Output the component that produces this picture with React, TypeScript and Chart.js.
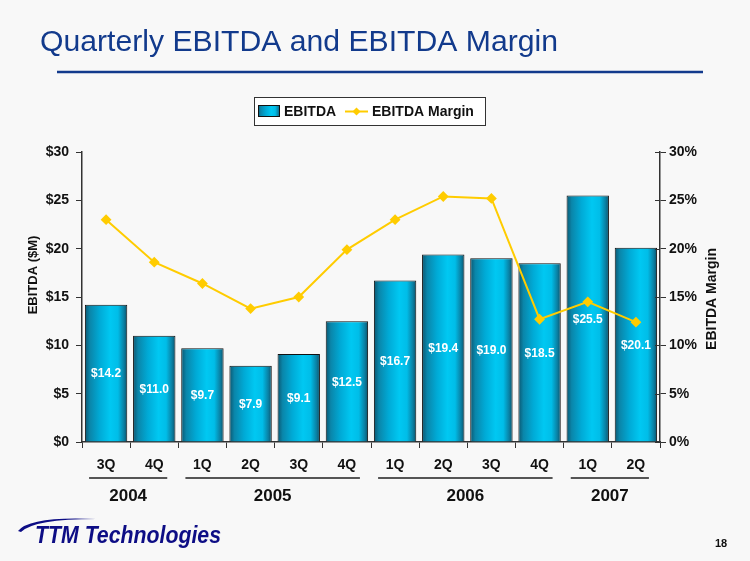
import { useEffect, useRef } from "react";
import { Chart, registerables } from "chart.js";

Chart.register(...registerables);

const categories = ["3Q", "4Q", "1Q", "2Q", "3Q", "4Q", "1Q", "2Q", "3Q", "4Q", "1Q", "2Q"];
const ebitda = [14.2, 11.0, 9.7, 7.9, 9.1, 12.5, 16.7, 19.4, 19.0, 18.5, 25.5, 20.1];
const margin = [23.0, 18.6, 16.4, 13.8, 15.0, 19.9, 23.0, 25.4, 25.2, 12.7, 14.5, 12.4];
const years = ["2004", "2005", "2006", "2007"];
const yearFirst = [0, 2, 6, 10];
const yearLast = [1, 5, 9, 11];

const FONT = "'Liberation Sans', Arial, Helvetica, sans-serif";
const BAR_PCT = 0.88;
const NAVY = "#123A8C";

function barFill(ctx: CanvasRenderingContext2D, x0: number, x1: number) {
  const g = ctx.createLinearGradient(x0, 0, x1, 0);
  g.addColorStop(0, "#0b5670");
  g.addColorStop(0.12, "#0a86aa");
  g.addColorStop(0.35, "#00aad6");
  g.addColorStop(0.6, "#00c8f2");
  g.addColorStop(0.78, "#00bde8");
  g.addColorStop(0.92, "#0a7fa2");
  g.addColorStop(1, "#0b5068");
  return g;
}

const bgPlugin = {
  id: "bg",
  beforeDraw(chart: any) {
    const ctx = chart.ctx;
    ctx.save();
    ctx.fillStyle = "#F8F8F8";
    ctx.fillRect(0, 0, chart.width, chart.height);
    ctx.restore();
  },
};

const labelsPlugin = {
  id: "barLabels",
  afterDatasetsDraw(chart: any) {
    const ctx = chart.ctx;
    const meta = chart.getDatasetMeta(0);
    ctx.save();
    ctx.font = `bold 12px ${FONT}`;
    ctx.fillStyle = "#FFFFFF";
    ctx.textAlign = "center";
    ctx.textBaseline = "middle";
    meta.data.forEach((el: any, i: number) => {
      const y = (el.y + el.base) / 2;
      ctx.fillText("$" + ebitda[i].toFixed(1), el.x, y + 1);
    });
    ctx.restore();
  },
};

const decorPlugin = {
  id: "decor",
  afterDraw(chart: any) {
    const ctx: CanvasRenderingContext2D = chart.ctx;
    const xs = chart.scales.x;
    const y1 = chart.scales.y1;
    ctx.save();

    // crossing ticks on right axis
    ctx.strokeStyle = "#333333";
    ctx.lineWidth = 1;
    y1.ticks.forEach((t: any) => {
      const py = Math.round(y1.getPixelForValue(t.value)) + 0.5;
      ctx.beginPath();
      ctx.moveTo(y1.left - 5, py);
      ctx.lineTo(y1.left, py);
      ctx.stroke();
    });

    // Title
    ctx.fillStyle = NAVY;
    ctx.font = `29px ${FONT}`;
    ctx.textBaseline = "alphabetic";
    ctx.textAlign = "left";
    const title = "Quarterly EBITDA and EBITDA Margin";
    const tw = ctx.measureText(title).width;
    ctx.save();
    ctx.translate(40, 51);
    ctx.scale(518 / tw, 1);
    ctx.fillText(title, 0, 0);
    ctx.restore();

    // underline
    ctx.strokeStyle = NAVY;
    ctx.lineWidth = 2.5;
    ctx.beginPath();
    ctx.moveTo(57, 72);
    ctx.lineTo(703, 72);
    ctx.stroke();

    // Legend
    ctx.fillStyle = "#FFFFFF";
    ctx.fillRect(254, 97, 231, 28);
    ctx.strokeStyle = "#333333";
    ctx.lineWidth = 1;
    ctx.strokeRect(254.5, 97.5, 231, 28);
    ctx.fillStyle = barFill(ctx, 258, 280);
    ctx.fillRect(258, 105, 22, 12);
    ctx.strokeStyle = "#111";
    ctx.strokeRect(258.5, 105.5, 21, 11);
    ctx.fillStyle = "#111";
    ctx.font = `bold 14px ${FONT}`;
    ctx.textBaseline = "middle";
    ctx.fillText("EBITDA", 284, 112);
    ctx.strokeStyle = "#FFCC00";
    ctx.lineWidth = 2;
    ctx.beginPath();
    ctx.moveTo(345, 111.5);
    ctx.lineTo(368, 111.5);
    ctx.stroke();
    ctx.fillStyle = "#FFCC00";
    ctx.beginPath();
    ctx.moveTo(356.5, 107.5);
    ctx.lineTo(360.5, 111.5);
    ctx.lineTo(356.5, 115.5);
    ctx.lineTo(352.5, 111.5);
    ctx.closePath();
    ctx.fill();
    ctx.fillStyle = "#111";
    ctx.fillText("EBITDA Margin", 372, 112);

    // Axis titles
    ctx.font = `bold 13px ${FONT}`;
    ctx.textAlign = "center";
    ctx.save();
    ctx.translate(33, 275);
    ctx.rotate(-Math.PI / 2);
    ctx.fillText("EBITDA ($M)", 0, 0);
    ctx.restore();
    ctx.font = `bold 14px ${FONT}`;
    ctx.save();
    ctx.translate(712, 299);
    ctx.rotate(-Math.PI / 2);
    ctx.fillText("EBITDA Margin", 0, 0);
    ctx.restore();

    // Year groups
    ctx.font = `bold 17px ${FONT}`;
    ctx.strokeStyle = "#555555";
    ctx.lineWidth = 2;
    years.forEach((yr, i) => {
      const x0 = xs.getPixelForValue(yearFirst[i]) - 17;
      const x1 = xs.getPixelForValue(yearLast[i]) + 13;
      ctx.beginPath();
      ctx.moveTo(x0, 478);
      ctx.lineTo(x1, 478);
      ctx.stroke();
      ctx.fillStyle = "#111";
      ctx.fillText(yr, (x0 + x1) / 2, 496);
    });

    // Logo swoosh
    ctx.fillStyle = "#0D0D85";
    ctx.beginPath();
    ctx.moveTo(18, 531);
    ctx.quadraticCurveTo(30, 516, 96, 519);
    ctx.quadraticCurveTo(34, 519, 21, 532);
    ctx.closePath();
    ctx.fill();
    // Logo text
    ctx.font = `italic bold 24px ${FONT}`;
    ctx.textAlign = "left";
    ctx.textBaseline = "alphabetic";
    const logo = "TTM Technologies";
    const lw = ctx.measureText(logo).width;
    ctx.save();
    ctx.translate(35, 543);
    ctx.scale(186 / lw, 1);
    ctx.fillText(logo, 0, 0);
    ctx.restore();

    // page number
    ctx.fillStyle = "#111";
    ctx.font = `bold 11px ${FONT}`;
    ctx.textAlign = "center";
    ctx.textBaseline = "middle";
    ctx.fillText("18", 721, 544);

    ctx.restore();
  },
};

export default function App() {
  const ref = useRef<HTMLCanvasElement>(null);

  useEffect(() => {
    if (!ref.current) return;
    const tickFont = { family: FONT, size: 14, weight: "bold" as const };
    const chart = new Chart(ref.current, {
      data: {
        labels: categories,
        datasets: [
          {
            type: "bar",
            label: "EBITDA",
            data: ebitda,
            yAxisID: "y",
            order: 2,
            borderColor: "#111111",
            borderWidth: 1,
            borderSkipped: "bottom",
            categoryPercentage: 1,
            barPercentage: BAR_PCT,
            backgroundColor: (c: any) => {
              const ch = c.chart;
              const xs = ch.scales?.x;
              if (!ch.chartArea || !xs || c.dataIndex == null) return "#00b8e0";
              const cx = xs.getPixelForValue(c.dataIndex);
              const w = (xs.width / categories.length) * BAR_PCT;
              return barFill(ch.ctx, cx - w / 2, cx + w / 2);
            },
          } as any,
          {
            type: "line",
            label: "EBITDA Margin",
            data: margin,
            yAxisID: "y1",
            order: 1,
            borderColor: "#FFCC00",
            borderWidth: 2,
            backgroundColor: "#FFCC00",
            pointStyle: "rectRot",
            pointRadius: 4,
            pointBackgroundColor: "#FFCC00",
            pointBorderColor: "#FFCC00",
            tension: 0,
          } as any,
        ],
      },
      options: {
        responsive: false,
        animation: false,
        layout: { padding: { top: 152, left: 0, right: 0, bottom: 0 } },
        plugins: {
          legend: { display: false },
          tooltip: { enabled: false },
        },
        scales: {
          x: {
            offset: true,
            grid: {
              offset: true,
              drawOnChartArea: false,
              drawTicks: true,
              tickLength: 6,
              color: "#333333",
              lineWidth: 1,
            },
            border: { color: "#333333", width: 1.5 },
            ticks: { font: tickFont, color: "#111111", padding: 9 },
            afterFit: (s: any) => {
              s.height = 119;
            },
          },
          y: {
            position: "left",
            min: 0,
            max: 30,
            grid: { drawOnChartArea: false, tickLength: 6, color: "#333333" },
            border: { color: "#333333", width: 1.5 },
            ticks: {
              stepSize: 5,
              font: tickFont,
              color: "#111111",
              padding: 7,
              callback: (v: any) => "$" + v,
            },
            afterFit: (s: any) => {
              s.width = 82;
            },
          },
          y1: {
            position: "right",
            min: 0,
            max: 30,
            grid: { drawOnChartArea: false, tickLength: 6, color: "#333333" },
            border: { color: "#333333", width: 1.5 },
            ticks: {
              stepSize: 5,
              font: tickFont,
              color: "#111111",
              padding: 3,
              callback: (v: any) => v + "%",
            },
            afterFit: (s: any) => {
              s.width = 90;
            },
          },
        },
      },
      plugins: [bgPlugin, labelsPlugin, decorPlugin],
    } as any);
    return () => chart.destroy();
  }, []);

  return (
    <div style={{ position: "absolute", left: 0, top: 0, width: 750, height: 561 }}>
      <canvas ref={ref} width={750} height={561} />
    </div>
  );
}
